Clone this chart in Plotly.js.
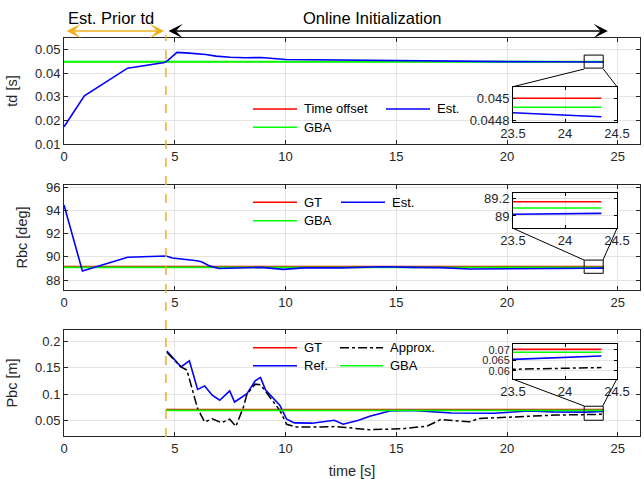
<!DOCTYPE html>
<html><head><meta charset="utf-8">
<script src="https://cdn.plot.ly/plotly-3.0.1.min.js"></script>
<style>html,body{margin:0;padding:0;background:#fff}#chart{width:644px;height:479px}</style>
</head><body><div id="chart"></div>
<script>
// ---------------- data ----------------
const tdTime = [0, 0.92, 2.87, 4.54, 4.7, 5.1, 5.65, 6.4, 6.86, 7.5, 8.2, 8.9, 10.0, 12.0, 15.0, 18.0, 20.0, 22.0, 23.5, 24.35];
const tdEst  = [0.0173, 0.0305, 0.0422, 0.0446, 0.0456, 0.0489, 0.0486, 0.0480, 0.0473, 0.0468, 0.0466, 0.0467, 0.0459, 0.0457, 0.0452, 0.0450, 0.04495, 0.0449, 0.04487, 0.044835];
const tdOffsetVal = 0.045;
const tdGBAVal = 0.04492;
const tdRefSpan = [0, 24.35];

const rbcTime = [0, 0.83, 2.87, 4.6, 4.9, 5.3, 6.0, 6.2, 6.6, 7.0, 8.2, 8.9, 9.9, 10.8, 12.5, 14.4, 15.7, 17.0, 18.3, 20.0, 22.0, 23.5, 24.35];
const rbcEst  = [94.47, 88.78, 89.96, 90.07, 89.9, 89.84, 89.67, 89.57, 89.2, 89.0, 89.09, 89.09, 88.92, 89.05, 89.05, 89.15, 89.09, 89.07, 88.95, 89.0, 89.0, 89.02, 89.03];
const rbcGTVal = 89.16;
const rbcGBAVal = 89.09;
const rbcRefSpan = [0, 24.35];

const pbcRefTime = [4.64, 5.28, 5.66, 6.03, 6.35, 6.69, 7.03, 7.48, 7.7, 8.26, 8.63, 8.87, 9.1, 9.74, 10.05, 10.4, 11.2, 12.2, 12.6, 13.3, 13.8, 14.7, 15.7, 17.5, 19.4, 21.0, 22.1, 23.0, 23.5, 24.35];
const pbcRef = [0.182, 0.152, 0.1636, 0.109, 0.1157, 0.098, 0.0883, 0.106, 0.085, 0.101, 0.1253, 0.1318, 0.1075, 0.0787, 0.052, 0.045, 0.0445, 0.050, 0.0424, 0.050, 0.0577, 0.0678, 0.0689, 0.064, 0.0635, 0.0678, 0.066, 0.065, 0.0655, 0.0671];
const pbcApproxTime = [4.64, 5.28, 5.55, 6.03, 6.35, 6.69, 7.1, 7.48, 7.76, 8.1, 8.26, 8.63, 8.87, 9.2, 9.74, 10.05, 10.5, 11.2, 12.3, 12.7, 13.8, 15.3, 16.4, 17.0, 18.3, 18.75, 20.3, 22.2, 23.5, 24.35];
const pbcApprox = [0.180, 0.152, 0.1458, 0.0724, 0.0468, 0.053, 0.0455, 0.052, 0.0385, 0.0755, 0.100, 0.119, 0.118, 0.100, 0.069, 0.0423, 0.037, 0.037, 0.038, 0.0363, 0.032, 0.034, 0.039, 0.0513, 0.047, 0.0534, 0.0564, 0.060, 0.0608, 0.0616];
const pbcGTVal = 0.0703;
const pbcGBAVal = 0.0689;
const pbcRefSpan = [4.6, 24.35];

const initSplit = 4.6;           // end of prior-td estimation
const onlineEnd = 24.55;         // end of online initialization arrow
const mainXTicks = [0, 5, 10, 15, 20, 25];
const tdTicks = [0.01, 0.02, 0.03, 0.04, 0.05];
const rbcTicks = [88, 90, 92, 94, 96];
const pbcTicks = [0.05, 0.1, 0.15, 0.2];
const insetXTicks = [23.5, 24, 24.5];
const tdInsetTicks = [0.0448, 0.045];
const rbcInsetTicks = [89, 89.2];
const pbcInsetTicks = [0.06, 0.065, 0.07];
const zoomWin = [23.48, 24.34];

// ---------------- layout helpers ----------------
const W = 644, H = 479, ML = 64, MR = 4, MT = 38, MB = 43;
const PW = W - ML - MR, PH = H - MT - MB;
const fx = p => (p - ML) / PW;
const fy = p => 1 - (p - MT) / PH;
const FONT = 'Liberation Sans, Arial, Helvetica, sans-serif';
const TXT = '#262626';
const RED = '#ff0000', GREEN = '#00ff00', BLUE = '#0000ff', ORANGE = '#EDB120';

function mainX(anchor, extra) {
  return Object.assign({
    anchor: anchor, domain: [0, 1], range: [0, 26], tickmode: 'array', tickvals: mainXTicks,
    ticks: 'inside', ticklen: 4, tickcolor: TXT, showline: true, mirror: 'ticks', linecolor: TXT, linewidth: 1,
    showgrid: true, gridcolor: '#e4e4e4', zeroline: false, automargin: false,
    tickfont: {family: FONT, size: 13, color: TXT}
  }, extra || {});
}
function mainY(anchor, dom, range, ticks, title) {
  return {
    anchor: anchor, domain: dom, range: range, tickmode: 'array', tickvals: ticks,
    ticks: 'inside', ticklen: 4, tickcolor: TXT, showline: true, mirror: 'ticks', linecolor: TXT, linewidth: 1,
    showgrid: true, gridcolor: '#e4e4e4', zeroline: false, automargin: false,
    tickfont: {family: FONT, size: 13, color: TXT},
    title: {text: title, standoff: 14, font: {family: FONT, size: 14.5, color: TXT}}
  };
}
function insetX(anchor, dom) {
  return {
    anchor: anchor, domain: dom, range: [23.5, 24.5], tickmode: 'array', tickvals: insetXTicks,
    ticks: 'inside', ticklen: 3, tickcolor: '#000', showline: true, mirror: 'ticks', linecolor: '#000', linewidth: 1,
    showgrid: true, gridcolor: '#e4e4e4', zeroline: false, automargin: false,
    tickfont: {family: FONT, size: 13, color: TXT}
  };
}
function insetY(anchor, dom, range, ticks, fs) {
  return {
    anchor: anchor, domain: dom, range: range, tickmode: 'array', tickvals: ticks,
    ticks: 'inside', ticklen: 3, tickcolor: '#000', showline: true, mirror: 'ticks', linecolor: '#000', linewidth: 1,
    showgrid: true, gridcolor: '#e4e4e4', zeroline: false, automargin: false,
    tickfont: {family: FONT, size: fs || 13, color: TXT}
  };
}

const P1 = [fy(144), fy(38)], P2 = [fy(290), fy(185)], P3 = [fy(436), fy(330)];
const IX = [fx(513), fx(617)];
const I1 = [fy(121.7), fy(86.7)], I2 = [fy(228.3), fy(192.7)], I3 = [fy(379.3), fy(344.3)];

// ---------------- traces ----------------
function flat(span, v) { return span.map(() => v); }
function line(x, y, color, ax, dash, w) {
  return {type: 'scatter', mode: 'lines', x: x, y: y, xaxis: ax[0], yaxis: ax[1], showlegend: false,
          hoverinfo: 'skip', line: {color: color, width: w || 1.6, dash: dash || 'solid'}};
}
const traces = [];
[['x', 'y'], ['x4', 'y4']].forEach(ax => {
  traces.push(line(tdRefSpan, flat(tdRefSpan, tdOffsetVal), RED, ax, null, ax[0] === 'x' ? 1.2 : 1.6));
  traces.push(line(tdRefSpan, flat(tdRefSpan, tdGBAVal), GREEN, ax, null, ax[0] === 'x' ? 1.8 : 1.6));
  traces.push(line(tdTime, tdEst, BLUE, ax));
});
[['x2', 'y2'], ['x5', 'y5']].forEach(ax => {
  traces.push(line(rbcRefSpan, flat(rbcRefSpan, rbcGTVal), RED, ax));
  traces.push(line(rbcRefSpan, flat(rbcRefSpan, rbcGBAVal), GREEN, ax));
  traces.push(line(rbcTime, rbcEst, BLUE, ax));
});
[['x3', 'y3'], ['x6', 'y6']].forEach(ax => {
  traces.push(line(pbcRefSpan, flat(pbcRefSpan, pbcGTVal), RED, ax));
  traces.push(line(pbcRefTime, pbcRef, BLUE, ax));
  traces.push(line(pbcApproxTime, pbcApprox, '#000', ax, 'dashdot', 1.5));
  traces.push(line(pbcRefSpan, flat(pbcRefSpan, pbcGBAVal), GREEN, ax));
});

// ---------------- shapes ----------------
const shapes = [];
// white inset backgrounds
[['x4', 'y4', 0.04479, 0.045104], ['x5', 'y5', 88.861, 89.263], ['x6', 'y6', 0.056, 0.0727]].forEach(s => {
  shapes.push({type: 'rect', xref: s[0], yref: s[1], x0: 23.5, x1: 24.5, y0: s[2], y1: s[3],
               fillcolor: '#fff', line: {width: 0}, layer: 'below'});
});
// zoom boxes
[['x', 'y', 0.04222, 0.04775], ['x2', 'y2', 88.58, 89.72], ['x3', 'y3', 0.0501, 0.0768]].forEach(s => {
  shapes.push({type: 'rect', xref: s[0], yref: s[1],
               x0: zoomWin[0], x1: zoomWin[1], y0: s[2], y1: s[3],
               line: {color: '#000', width: 1}, fillcolor: 'rgba(0,0,0,0)', layer: 'above'});
});
// connector lines (pixel positions)
[[584.3, 69, 513, 86.7], [603.3, 69, 617, 86.7],
 [513, 228.3, 584, 260], [617, 228.3, 603, 260],
 [513.3, 379.3, 584.3, 406], [616.7, 379.3, 602.7, 406]].forEach(c => {
  shapes.push({type: 'line', xref: 'paper', yref: 'paper', x0: fx(c[0]), y0: fy(c[1]), x1: fx(c[2]), y1: fy(c[3]),
               line: {color: '#000', width: 1}, layer: 'above'});
});
// dashed split line
shapes.push({type: 'line', xref: 'x', yref: 'paper', x0: initSplit, x1: initSplit, y0: fy(437), y1: fy(35),
             line: {color: ORANGE, width: 1.5, dash: 'dash'}, layer: 'above'});

// ---------------- annotations & manual legends ----------------
const ann = [];
function txt(xp, yp, s, size, anchor) {
  ann.push({xref: 'paper', yref: 'paper', x: fx(xp), y: fy(yp), text: s, showarrow: false,
            xanchor: anchor || 'left', yanchor: 'middle', font: {family: FONT, size: size || 13, color: '#000'}});
}
function legItem(x0, x1, yp, color, dash, label) {
  shapes.push({type: 'line', xref: 'paper', yref: 'paper', x0: fx(x0), x1: fx(x1), y0: fy(yp), y1: fy(yp),
               line: {color: color, width: 1.6, dash: dash || 'solid'}, layer: 'above'});
  txt(x1 + 4.5, yp, label);
}
// panel 1 legend
legItem(253, 297, 109, RED, null, 'Time offset');
legItem(386, 430, 109, BLUE, null, 'Est.');
legItem(253, 297, 127.3, GREEN, null, 'GBA');
// panel 2 legend
legItem(253, 297, 202.3, RED, null, 'GT');
legItem(341, 385, 202.3, BLUE, null, 'Est.');
legItem(253, 297, 220.8, GREEN, null, 'GBA');
// panel 3 legend
legItem(253, 297, 347.7, RED, null, 'GT');
legItem(340, 383, 347.7, '#000', 'dashdot', 'Approx.');
legItem(253, 297, 365.8, BLUE, null, 'Ref.');
legItem(340, 383, 365.8, GREEN, null, 'GBA');

// top labels and arrows
txt(111, 17.5, 'Est. Prior td', 16.5, 'center');
txt(372, 18.5, 'Online Initialization', 16.5, 'center');
function arrow(xFrom, xTo, color) {
  ann.push({xref: 'x', yref: 'paper', x: xTo, y: fy(31), axref: 'x', ayref: 'pixel', ax: xFrom, ay: 0,
            text: '', showarrow: true, arrowside: 'end+start', arrowhead: 3, startarrowhead: 3,
            arrowsize: 1.6, startarrowsize: 1.6, arrowwidth: 1.5, arrowcolor: color, standoff: 0, startstandoff: 0});
}
arrow(0.05, initSplit - 0.08, ORANGE);
arrow(initSplit + 0.05, onlineEnd, '#000');

const layout = {
  width: W, height: H, margin: {l: ML, r: MR, t: MT, b: MB},
  paper_bgcolor: '#fff', plot_bgcolor: '#fff', showlegend: false,
  font: {family: FONT, size: 13, color: TXT},
  xaxis: mainX('y'), xaxis2: mainX('y2'),
  xaxis3: mainX('y3', {title: {text: 'time [s]', font: {family: FONT, size: 14.5, color: TXT}}}),
  yaxis: mainY('x', P1, [0.01, 0.055], tdTicks, 'td [s]'),
  yaxis2: mainY('x2', P2, [87.14, 96.2], rbcTicks, 'Rbc [deg]'),
  yaxis3: mainY('x3', P3, [0.02, 0.2224], pbcTicks, 'Pbc [m]'),
  xaxis4: insetX('y4', IX), yaxis4: insetY('x4', I1, [0.04479, 0.045104], tdInsetTicks),
  xaxis5: insetX('y5', IX), yaxis5: insetY('x5', I2, [88.861, 89.263], rbcInsetTicks),
  xaxis6: insetX('y6', IX), yaxis6: insetY('x6', I3, [0.056, 0.0727], pbcInsetTicks, 11),
  shapes: shapes, annotations: ann
};
Plotly.newPlot('chart', traces, layout, {staticPlot: true, displayModeBar: false});
</script></body></html>
